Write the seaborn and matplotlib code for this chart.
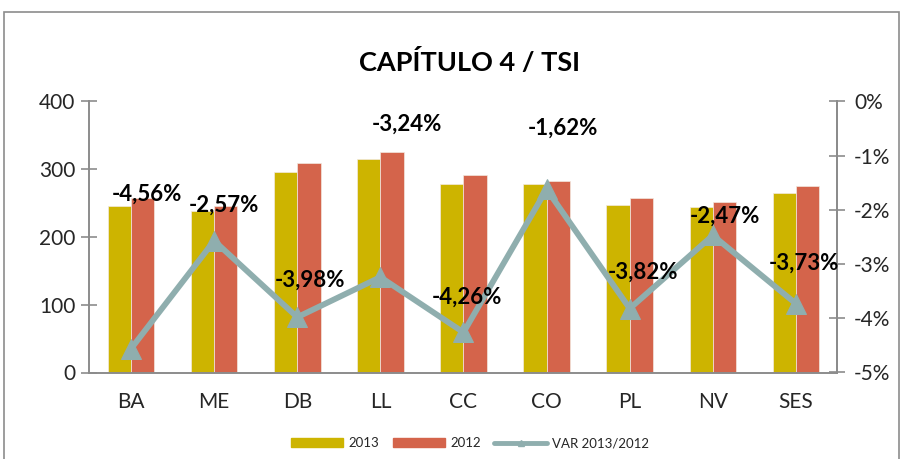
import numpy as np
import pandas as pd
import matplotlib
matplotlib.use("Agg")
import matplotlib.pyplot as plt
from matplotlib.patches import Rectangle
from matplotlib.lines import Line2D
from matplotlib.patches import Patch
import seaborn as sns

# data
categories = ["BA", "ME", "DB", "LL", "CC", "CO", "PL", "NV", "SES"]
vals_2013 = [245.5, 239, 296, 315.5, 278, 277.5, 247, 245, 265]
vals_2012 = [257, 245.5, 308.5, 326, 291, 282, 257, 251, 275.5]
var_pct = [-4.56, -2.57, -3.98, -3.24, -4.26, -1.62, -3.82, -2.47, -3.73]

# label offsets (pixels) from each line point, as placed in the original
label_offsets = [(16, 154), (10, 36), (13, 37), (27, 153), (3, 35),
                 (16, 61), (13, 36), (12, 19), (8, 40)]

c2013 = "#CDB400"
c2012 = "#D4644B"
cline = "#8FAEAE"
grey = "#8C8C8C"

sns.set_style("white")
plt.rcParams["font.family"] = ["Lato", "DejaVu Sans"]

df = pd.DataFrame({
    "cat": categories * 2,
    "val": vals_2013 + vals_2012,
    "year": ["2013"] * len(categories) + ["2012"] * len(categories),
})

fig = plt.figure(figsize=(9.04, 4.59), dpi=100)
left, right, top, bottom = 89.5, 837.5, 101.5, 372.5
ax = fig.add_axes([left / 904, 1 - bottom / 459, (right - left) / 904, (bottom - top) / 459])

sns.barplot(data=df, x="cat", y="val", hue="year", hue_order=["2013", "2012"],
            palette=[c2013, c2012], width=0.56, ax=ax, legend=False,
            edgecolor="#F2E9E0", linewidth=0.5, saturation=1)

ax.set_xlim(-0.5, len(categories) - 0.5)
ax.set_ylim(0, 400)
ax.set_yticks([0, 100, 200, 300, 400])
ax.set_xlabel("")
ax.set_ylabel("")
ax.tick_params(axis="y", labelsize=15, length=12, direction="inout",
               color=grey, width=1.2, pad=4)
ax.tick_params(axis="x", which="major", labelsize=15, length=0, pad=14)
ax.set_xticks(np.arange(-0.5, len(categories)), minor=True)
ax.tick_params(axis="x", which="minor", length=14, direction="inout",
               color=grey, width=1.2)
ax.spines["top"].set_visible(False)
for s in ["left", "bottom", "right"]:
    ax.spines[s].set_color(grey)
    ax.spines[s].set_linewidth(1.4)

ax2 = ax.twinx()
x = np.arange(len(categories))
sns.lineplot(x=x, y=var_pct, ax=ax2, color=cline, linewidth=4.2, marker="^",
             markersize=14, markeredgecolor=cline, legend=False)
ax2.set_ylim(-5, 0)
ax2.set_yticks([0, -1, -2, -3, -4, -5])
ax2.set_yticklabels([f"{int(v)}%" for v in [0, -1, -2, -3, -4, -5]])
ax2.tick_params(axis="y", labelsize=15, length=12, direction="inout",
                color=grey, width=1.2, pad=6)
ax2.spines["top"].set_visible(False)
ax2.spines["right"].set_color(grey)
ax2.spines["right"].set_linewidth(1.4)
ax2.spines["left"].set_visible(False)
ax2.spines["bottom"].set_visible(False)
ax2.set_xlim(-0.5, len(categories) - 0.5)

for xi, v, (dx, dy) in zip(x, var_pct, label_offsets):
    txt = f"{v:.2f}".replace(".", ",") + "%"
    ax2.annotate(txt, (xi, v), xytext=(dx, dy), textcoords="offset pixels",
                 ha="center", va="center", fontsize=16, fontweight="bold",
                 color="black")

fig.text(470 / 904, 1 - 62 / 459, "CAPÍTULO 4 / TSI", ha="center", va="center",
         fontsize=19.5, fontweight="bold", color="black")

handles = [Patch(color=c2013, label="2013"), Patch(color=c2012, label="2012"),
           Line2D([], [], color=cline, linewidth=3.5, marker="^", markersize=5,
                  label="VAR 2013/2012")]
fig.legend(handles=handles, loc="center", bbox_to_anchor=(470 / 904, 1 - 443 / 459),
           ncol=3, frameon=False, fontsize=9.5, handlelength=4.0, handleheight=0.6,
           columnspacing=1.0, handletextpad=0.4)

fig.patches.append(Rectangle((4 / 904, -0.02), 895 / 904, 1.02 - 12 / 459,
                             transform=fig.transFigure, fill=False,
                             edgecolor="#8C8C8C", linewidth=1.2))

fig.savefig("out.png", dpi=100)
